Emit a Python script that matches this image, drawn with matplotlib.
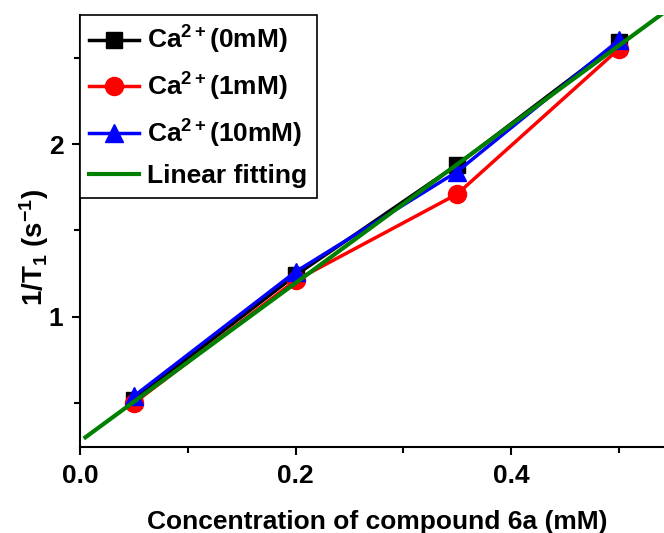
import matplotlib
matplotlib.use("Agg")
import numpy as np
import matplotlib.pyplot as plt
from matplotlib.ticker import MultipleLocator

plt.rcParams['font.family'] = ['Liberation Sans', 'DejaVu Sans']
plt.rcParams['font.weight'] = 'bold'
plt.rcParams['mathtext.fontset'] = 'custom'
plt.rcParams['mathtext.rm'] = 'Liberation Sans:bold'
plt.rcParams['mathtext.it'] = 'Liberation Sans:bold'
plt.rcParams['mathtext.bf'] = 'Liberation Sans:bold'

# concentration of 6a (mM) and relaxation rates 1/T1 (s^-1)
conc = [0.05, 0.20, 0.35, 0.50]
rate_0mM = [0.52, 1.24, 1.88, 2.59]
rate_1mM = [0.50, 1.21, 1.71, 2.55]
rate_10mM = [0.54, 1.26, 1.84, 2.60]

# linear fit: 1/T1 = slope * c + intercept
fit_slope = 4.58
fit_intercept = 0.279
fit_range = [0.005, 0.56]

fig = plt.figure(figsize=(6.64, 5.33), dpi=100)
ax = fig.add_axes([0.1205, 0.1614, 0.8795, 0.8105])

ax.plot(conc, rate_0mM, '-s', color='black', lw=2.5, ms=11, label='Ca$^{2+}$(0mM)')
ax.plot(conc, rate_1mM, '-o', color='red', lw=2.5, ms=13, label='Ca$^{2+}$(1mM)')
ax.plot(conc, rate_10mM, '-^', color='blue', lw=2.5, ms=13, label='Ca$^{2+}$(10mM)')
fx = np.array(fit_range)
ax.plot(fx, fit_slope * fx + fit_intercept, '-', color='green', lw=3, label='Linear fitting')

ax.set_xlim(0, 0.542)
ax.set_ylim(0.246, 2.747)
ax.xaxis.set_major_locator(MultipleLocator(0.2))
ax.xaxis.set_minor_locator(MultipleLocator(0.1))
ax.yaxis.set_major_locator(MultipleLocator(1))
ax.yaxis.set_minor_locator(MultipleLocator(0.5))
ax.tick_params(which='major', direction='out', length=6, width=1.5, labelsize=19, pad=6)
ax.tick_params(which='minor', direction='out', length=4, width=1.5)
for s in ['top', 'right']:
    ax.spines[s].set_visible(False)
for s in ['left', 'bottom']:
    ax.spines[s].set_linewidth(1.5)

ax.set_xlabel('Concentration of compound 6a (mM)', fontsize=19, fontweight='bold', labelpad=16)
ax.xaxis.label.set_x(0.509)
ax.set_ylabel('1/T$_1$ (s$^{-1}$)', fontsize=20, fontweight='bold')
ax.yaxis.set_label_coords(-0.05, 0.463)

leg = ax.legend(loc='upper left', bbox_to_anchor=(0, 1), borderaxespad=0, fontsize=19,
                fancybox=False, framealpha=1, edgecolor='black', handlelength=1.9,
                handletextpad=0.3, borderpad=0.35, labelspacing=0.55)
leg.get_frame().set_linewidth(1.2)

fig.savefig('out.png', dpi=100)
